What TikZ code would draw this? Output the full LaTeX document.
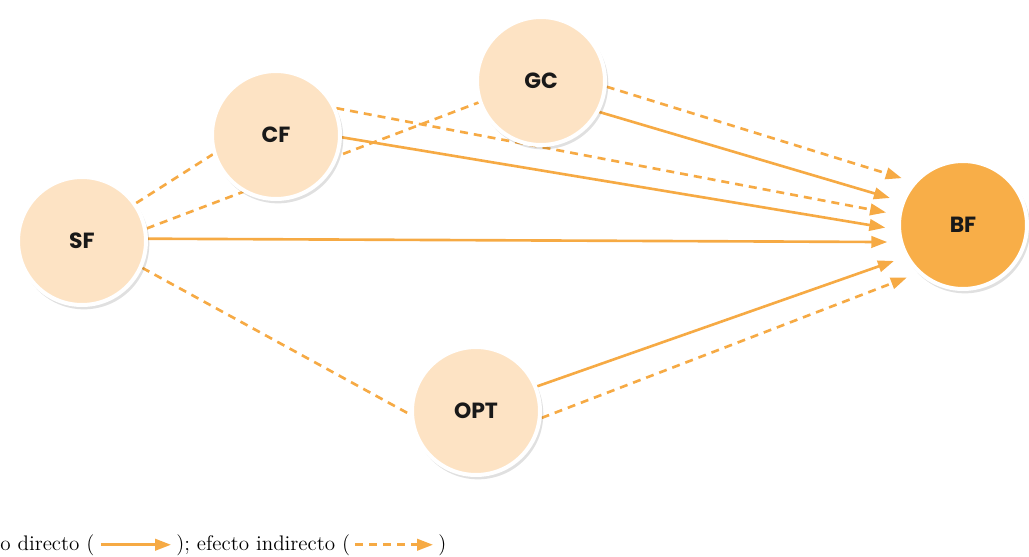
\documentclass[tikz,border=0pt]{standalone}
\usepackage{fontspec}
\newfontfamily\circlefont{Poppins}
\usetikzlibrary{arrows.meta,shadows,backgrounds}
\definecolor{peach}{RGB}{253,227,196}
\definecolor{bforange}{RGB}{248,174,72}
\definecolor{lineorange}{RGB}{246,170,68}
\begin{document}
\begin{tikzpicture}
	[x=0.02cm,y=-0.02cm,
	factor/.style={draw=white,line width=0.08cm,circle,minimum size=2.56cm,fill=peach,
		font=\circlefont\bfseries\fontsize{12.5}{14}\selectfont,text=black!90,
		drop shadow={fill=black,opacity=.12,shadow xshift=.04cm,shadow yshift=-.06cm,shadow scale=1.02}},
	direct/.style={draw=lineorange,line width=1.5pt,-{Triangle[length=0.32cm,width=0.23cm]},shorten >=0.24cm},
	indirect/.style={direct,dash pattern=on 0.16cm off 0.12cm},
	nexus/.style={draw=lineorange,line width=1.5pt,dash pattern=on 0.16cm off 0.12cm},
	legend/.style={inner sep=0pt,font=\fontsize{12}{14}\selectfont}]
	\useasboundingbox (0,0) rectangle (1029,556);
	\node[factor] (SF) at (82,241) {SF};
	\node[factor] (CF) at (276,135) {CF};
	\node[factor] (GC) at (541,81) {GC};
	\node[factor] (OPT) at (476,411) {OPT};
	\node[factor,fill=bforange] (BF) at (963,225) {BF};
	\begin{pgfonlayer}{background}
		\draw[nexus] (SF.35) -- (CF.197);
		\draw[nexus] (SF.11) -- (GC.199);
		\draw[nexus] (SF.336) -- (OPT.183);
		\draw[direct] (SF.2) -- (BF.195);
		\draw[direct] (CF.358) -- (BF.184);
		\draw[indirect] (CF.24) -- (BF.171);
		\draw[direct] (GC.332) -- (BF.159);
		\draw[indirect] (GC.355) -- (BF.139);
		\draw[direct] (OPT.22) -- (BF.209);
		\draw[indirect] (OPT.354) -- (BF.227);
	\end{pgfonlayer}
	\node[legend,anchor=base west] (legA) at (0,550) {o directo (};
	\node[legend,anchor=base west] (legB) at (176,550) {); efecto indirecto (};
	\node[legend,anchor=base west] (legC) at (438,550) {)};
	\draw[direct,shorten >=0.1cm,shorten <=0.12cm] (legA.east) -- (legB.west);
	\draw[indirect,shorten >=0.1cm,shorten <=0.1cm] (legB.east) -- (legC.west);
\end{tikzpicture}
\end{document}
